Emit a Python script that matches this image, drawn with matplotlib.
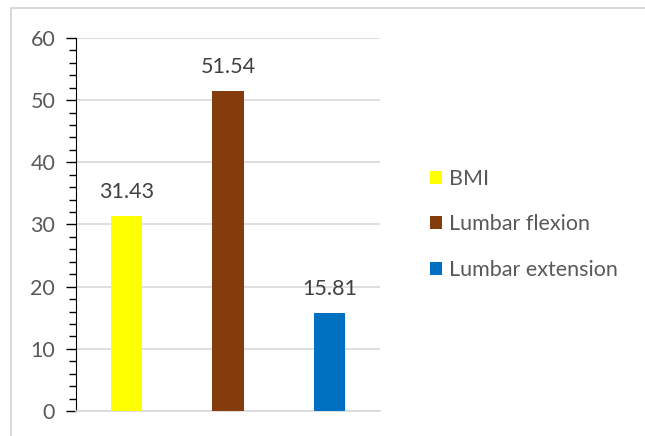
import numpy as np
import matplotlib.pyplot as plt
from matplotlib.patches import Rectangle
from matplotlib.ticker import MultipleLocator

plt.rcParams['font.family'] = ['Lato', 'DejaVu Sans']

categories = ["BMI", "Lumbar flexion", "Lumbar extension"]
values = [31.43, 51.54, 15.81]
colors = ["#FFFF00", "#843C0C", "#0070C0"]

fig = plt.figure(figsize=(6.45, 4.36), dpi=100)
ax = fig.add_axes([76/645, 25/436, 304/645, 373/436])

# outer chart frame (only top/left visible)
fig.patches.append(Rectangle((11/645, -0.1), 1.2, 1 - 8/436 + 0.1, transform=fig.transFigure,
                             fill=False, edgecolor="#D9D9D9", linewidth=1.5))

x = np.arange(len(categories))
bars = ax.bar(x, values, width=0.31, color=colors, label=categories, zorder=3)

for xi, v in zip(x, values):
    ax.annotate(f"{v:.2f}", (xi, v), xytext=(0, 10), textcoords="offset points",
                ha="center", va="bottom", fontsize=15.5, color="#404040")

ax.set_xlim(-0.5, 2.5)
ax.set_ylim(0, 60)
ax.yaxis.set_major_locator(MultipleLocator(10))
ax.yaxis.set_minor_locator(MultipleLocator(2))
ax.set_xticks([])
ax.grid(axis="y", color="#D9D9D9", linewidth=1.2, zorder=0)
for s in ["top", "right"]:
    ax.spines[s].set_visible(False)
ax.spines["bottom"].set_color("#D9D9D9")
ax.spines["bottom"].set_linewidth(1.2)
ax.spines["left"].set_color("black")
ax.tick_params(axis="y", which="major", length=7, width=1, labelsize=15.5,
               labelcolor="#595959", pad=8)
ax.tick_params(axis="y", which="minor", length=5, width=1)

ax.legend(loc="center left", bbox_to_anchor=(1.1, 0.5), frameon=False,
          fontsize=15.5, labelcolor="#595959", handlelength=0.55, handleheight=0.55,
          labelspacing=1.2, handletextpad=0.35)

fig.savefig("out.png", dpi=100)
